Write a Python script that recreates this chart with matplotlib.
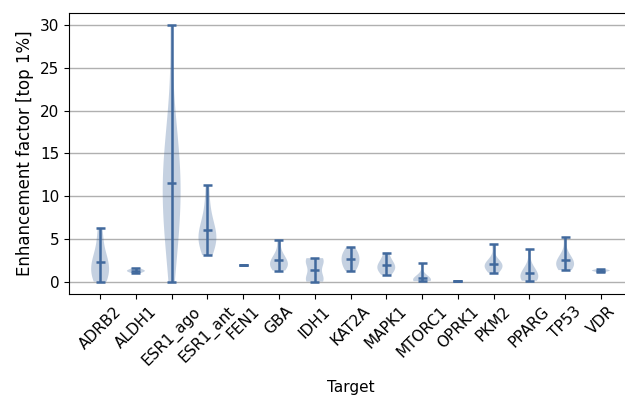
import numpy as np
import matplotlib
matplotlib.use("Agg")
import matplotlib.pyplot as plt
from matplotlib import cbook

targets = ["ADRB2", "ALDH1", "ESR1_ago", "ESR1_ant", "FEN1", "GBA", "IDH1",
           "KAT2A", "MAPK1", "MTORC1", "OPRK1", "PKM2", "PPARG", "TP53", "VDR"]

adrb2 = [0.0, 0.4, 0.6, 1.2, 1.8, 2.2, 2.6, 3.2, 4.7, 6.3]
aldh1 = [1.0, 1.15, 1.25, 1.3, 1.4, 1.6]
esr1_ago = [0.0, 3.0, 4.0, 6.0, 7.0, 8.0, 9.0, 10.0, 11.0, 12.0, 13.0, 14.0,
            15.0, 16.0, 18.0, 21.0, 30.0]
esr1_ant = [3.1, 4.0, 4.6, 5.0, 5.3, 5.6, 6.2, 7.2, 8.7, 11.3]
fen1 = [1.95]
gba = [1.3, 1.6, 1.8, 2.0, 2.2, 2.4, 2.8, 3.3, 4.9]
idh1 = [0.0, 0.1, 0.2, 0.4, 1.4, 2.3, 2.5, 2.6, 2.75]
kat2a = [1.25, 1.6, 2.0, 2.3, 2.6, 2.9, 3.2, 3.5, 4.0]
mapk1 = [0.8, 1.1, 1.4, 1.6, 1.8, 2.0, 2.3, 2.7, 3.4]
mtorc1 = [0.05, 0.08, 0.1, 0.15, 0.2, 0.3, 0.5, 0.8, 2.15]
oprk1 = [0.05]
pkm2 = [1.05, 1.4, 1.6, 1.8, 1.9, 2.0, 2.2, 2.5, 4.4]
pparg = [0.1, 0.2, 0.3, 0.5, 0.7, 1.0, 1.3, 1.7, 3.8]
tp53 = [1.35, 1.6, 1.8, 2.0, 2.2, 2.4, 2.7, 3.2, 5.25]
vdr = [1.15, 1.25, 1.3, 1.35, 1.45]

data = [adrb2, aldh1, esr1_ago, esr1_ant, fen1, gba, idh1, kat2a, mapk1,
        mtorc1, oprk1, pkm2, pparg, tp53, vdr]

line_color = "#41699d"


def kde(x, coords):
    x = np.asarray(x, float)
    coords = np.asarray(coords, float)
    n = len(x)
    if n < 2 or np.std(x, ddof=1) == 0:
        return np.zeros_like(coords)
    bw = np.std(x, ddof=1) * n ** (-1.0 / 5)
    z = (coords[:, None] - x[None, :]) / bw
    return np.exp(-0.5 * z ** 2).sum(axis=1) / (n * bw * np.sqrt(2 * np.pi))


fig = plt.figure(figsize=(6.25, 3.99), dpi=100)
ax = fig.add_axes([69 / 625, 1 - 294 / 399, (632 - 69) / 625, (294 - 13) / 399])

positions = np.arange(1, len(targets) + 1)
stats = cbook.violin_stats(data, kde, points=100)
parts = ax.violin(stats, positions=positions, widths=0.5,
                  showmeans=True, showextrema=True)
for body in parts["bodies"]:
    body.set_facecolor(line_color)
    body.set_edgecolor("none")
    body.set_linewidth(0)
    body.set_alpha(0.3)
for key in ("cbars", "cmins", "cmaxes", "cmeans"):
    parts[key].set_color(line_color)
    parts[key].set_linewidth(1.8)

ax.set_xticks(positions)
ax.set_xticklabels(targets, rotation=45)
ax.set_xlim(0.13, 15.87)
ax.set_ylim(-1.45, 31.45)
ax.set_yticks([0, 5, 10, 15, 20, 25, 30])
ax.yaxis.grid(True, color="#b0b0b0", linewidth=1)
ax.set_axisbelow(True)
ax.set_xlabel("Target", fontsize=11, labelpad=8)
ax.set_ylabel("Enhancement factor [top 1%]", fontsize=12)
ax.tick_params(labelsize=11)

fig.savefig("out.png", dpi=100)
